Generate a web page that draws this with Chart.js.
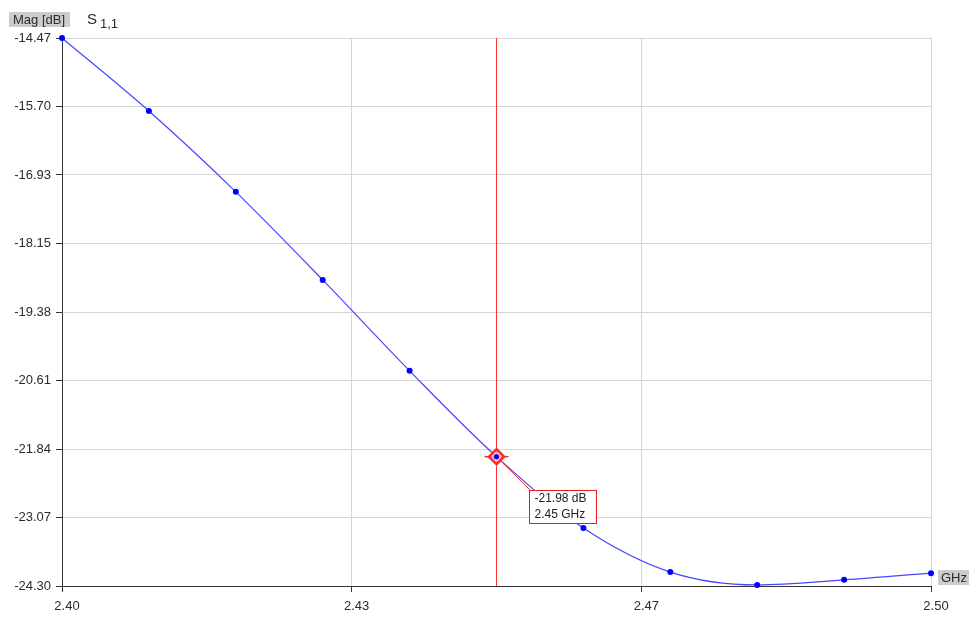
<!DOCTYPE html>
<html>
<head>
<meta charset="utf-8">
<title>S1,1 magnitude</title>
<script src="https://cdn.jsdelivr.net/npm/chart.js@4"></script>
<style>
  html, body { margin: 0; padding: 0; background: #fff; }
  #wrap { width: 973px; height: 617px; position: relative; }
</style>
</head>
<body>
<div id="wrap"><canvas id="c" width="973" height="617"></canvas></div>
<script>
// Frequency sweep (GHz) and |S11| (dB)
const freqGHz = [2.40, 2.41, 2.42, 2.43, 2.44, 2.45, 2.46, 2.47, 2.48, 2.49, 2.50];
const s11dB   = [-14.47, -15.78, -17.23, -18.81, -20.44, -21.98, -23.26, -24.05, -24.28, -24.19, -24.07];

// Axis ticks
const xTickValues = [2.40, 2.43333, 2.46667, 2.50];
const xTickLabels = ['2.40', '2.43', '2.47', '2.50'];
const yTickValues = [-24.30, -23.07125, -21.8425, -20.61375, -19.385, -18.15625, -16.9275, -15.69875, -14.47];
const yTickLabels = ['-24.30', '-23.07', '-21.84', '-20.61', '-19.38', '-18.15', '-16.93', '-15.70', '-14.47'];

// Marker
const markerFreq = 2.45;
const markerdB = -21.98;
const markerLines = ['-21.98 dB', '2.45 GHz'];

const FONT = '"Liberation Sans", Arial, sans-serif';
const TEXT = '#2b2b2b';

const markerPlugin = {
  id: 'markerPlugin',
  afterDatasetsDraw(chart) {
    const { ctx, chartArea, scales } = chart;
    const x = scales.x.getPixelForValue(markerFreq);
    const y = scales.y.getPixelForValue(markerdB);
    const xl = Math.round(x) - 0.5;
    ctx.save();
    // vertical marker line
    ctx.strokeStyle = '#ff3030';
    ctx.lineWidth = 1;
    ctx.beginPath();
    ctx.moveTo(xl, chartArea.top);
    ctx.lineTo(xl, chartArea.bottom);
    ctx.stroke();
    // connector to the readout box
    const bx = Math.round(x + 32) + 0.5, by = Math.round(y + 33) + 0.5;
    ctx.strokeStyle = '#ff2a2a';
    ctx.lineWidth = 1;
    ctx.beginPath();
    ctx.moveTo(x + 3, y + 3);
    ctx.lineTo(bx + 2, by + 1);
    ctx.stroke();
    // horizontal stubs
    ctx.lineWidth = 1.5;
    ctx.beginPath();
    ctx.moveTo(x - 12, y);
    ctx.lineTo(x + 12, y);
    ctx.stroke();
    // diamond
    ctx.lineWidth = 2.5;
    ctx.fillStyle = 'rgba(255,205,205,0.7)';
    ctx.beginPath();
    ctx.moveTo(x, y - 7.5);
    ctx.lineTo(x + 7.5, y);
    ctx.lineTo(x, y + 7.5);
    ctx.lineTo(x - 7.5, y);
    ctx.closePath();
    ctx.fill();
    ctx.stroke();
    ctx.fillStyle = '#0000ff';
    ctx.beginPath();
    ctx.arc(x, y, 2.5, 0, Math.PI * 2);
    ctx.fill();
    // readout box
    ctx.fillStyle = '#ffffff';
    ctx.fillRect(bx, by, 67, 33);
    ctx.strokeStyle = '#e02020';
    ctx.lineWidth = 1;
    ctx.strokeRect(bx, by, 67, 33);
    ctx.fillStyle = '#222222';
    ctx.font = '12px ' + FONT;
    ctx.textBaseline = 'middle';
    ctx.textAlign = 'left';
    ctx.fillText(markerLines[0], bx + 5, by + 8.5);
    ctx.fillText(markerLines[1], bx + 5, by + 24.5);
    ctx.restore();
  },
  afterDraw(chart) {
    const { ctx } = chart;
    ctx.save();
    // y-axis unit tag
    ctx.fillStyle = '#cccccc';
    ctx.fillRect(9, 12, 61, 15);
    ctx.fillStyle = TEXT;
    ctx.font = '13px ' + FONT;
    ctx.textBaseline = 'middle';
    ctx.textAlign = 'left';
    ctx.fillText('Mag [dB]', 13, 20);
    // trace name
    ctx.font = '15px ' + FONT;
    ctx.textBaseline = 'alphabetic';
    ctx.fillText('S', 87, 24);
    ctx.font = '13px ' + FONT;
    ctx.fillText('1,1', 100, 28);
    // x-axis unit tag
    ctx.fillStyle = '#cccccc';
    ctx.fillRect(938, 570, 31, 15);
    ctx.fillStyle = TEXT;
    ctx.font = '13px ' + FONT;
    ctx.textBaseline = 'middle';
    ctx.fillText('GHz', 941, 578);
    ctx.restore();
  }
};

new Chart(document.getElementById('c'), {
  type: 'line',
  data: {
    datasets: [{
      data: freqGHz.map((f, i) => ({ x: f, y: s11dB[i] })),
      borderColor: '#4646ff',
      borderWidth: 1.2,
      pointRadius: 3,
      pointBackgroundColor: '#0000ff',
      pointBorderColor: '#0000ff',
      pointBorderWidth: 0,
      cubicInterpolationMode: 'monotone',
      fill: false,
      clip: false
    }]
  },
  options: {
    responsive: false,
    animation: false,
    events: [],
    layout: { padding: { top: 38, right: 42, left: 0, bottom: 0 } },
    plugins: { legend: { display: false }, tooltip: { enabled: false } },
    scales: {
      x: {
        type: 'linear',
        min: 2.40,
        max: 2.50,
        afterBuildTicks(scale) { scale.ticks = xTickValues.map(v => ({ value: v })); },
        afterFit(scale) { scale.height = 31; },
        ticks: {
          autoSkip: false,
          maxRotation: 0,
          padding: 7,
          labelOffset: 5,
          color: TEXT,
          font: { family: FONT, size: 13 },
          callback: (v, i) => xTickLabels[i]
        },
        grid: { color: '#d6d6d6', lineWidth: 1, tickColor: '#333333', tickLength: 6 },
        border: { display: true, color: '#333333', width: 1 }
      },
      y: {
        type: 'linear',
        min: -24.30,
        max: -14.47,
        afterBuildTicks(scale) { scale.ticks = yTickValues.map(v => ({ value: v })); },
        afterFit(scale) { scale.width = 62; },
        ticks: {
          autoSkip: false,
          padding: 5,
          color: TEXT,
          font: { family: FONT, size: 13 },
          callback: (v, i) => yTickLabels[i]
        },
        grid: { color: '#d6d6d6', lineWidth: 1, tickColor: '#333333', tickLength: 6 },
        border: { display: true, color: '#333333', width: 1 }
      }
    }
  },
  plugins: [markerPlugin]
});
</script>
</body>
</html>
